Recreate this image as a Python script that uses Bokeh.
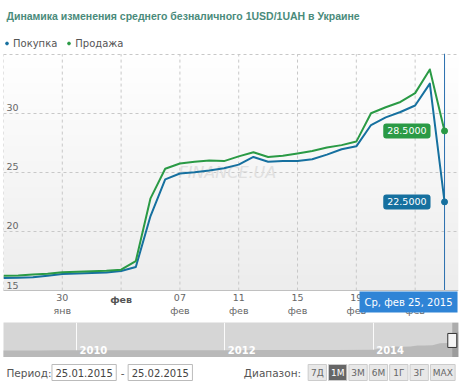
import numpy as np
from bokeh.plotting import figure
from bokeh.layouts import column
from bokeh.models import (Range1d, FixedTicker, Legend, LegendItem, Label)
from bokeh.core.properties import value
from bokeh.embed import file_html
from bokeh.resources import INLINE

# ---------------- data ----------------
# daily points 25.01.2015 ... 25.02.2015 on the ordinal (trading-day) axis
day_index = list(range(31))
buy = [16.07, 16.09, 16.12, 16.25, 16.40, 16.45, 16.48, 16.52, 16.65, 17.00,
       21.30, 24.40, 24.90, 25.00, 25.15, 25.35, 25.65, 26.30, 25.90, 25.95,
       25.95, 26.10, 26.50, 26.95, 27.20, 29.00, 29.65, 30.10, 30.65, 32.50, 22.50]
sell = [16.25, 16.28, 16.35, 16.42, 16.55, 16.60, 16.63, 16.67, 16.77, 17.50,
        22.80, 25.30, 25.75, 25.90, 26.00, 25.95, 26.35, 26.70, 26.30, 26.40,
        26.60, 26.80, 27.10, 27.30, 27.60, 30.00, 30.50, 30.95, 31.70, 33.70, 28.50]
x_grid_pos = [0, 4, 8, 12, 16, 20, 24, 28]
x_tick_pos = [4, 8, 12, 16, 20, 24, 28]
x_tick_labels = ["30\nянв", "фев", "07\nфев", "11\nфев", "15\nфев", "19\nфев", "23\nфев"]
bold_tick = 8
y_ticks = [15, 20, 25, 30, 35]
y_tick_labels = ["15", "20", "25", "30"]
series_names = ["Покупка", "Продажа"]
last_date_text = "Ср, фев 25, 2015"
title_text = "Динамика изменения среднего безналичного 1USD/1UAH в Украине"

# navigator (whole history, decimal years)
nav_x = [2009.0, 2009.25, 2009.5, 2009.75, 2010.0, 2010.5, 2011.0, 2011.5, 2012.0,
         2012.5, 2013.0, 2013.5, 2014.0, 2014.1, 2014.2, 2014.3, 2014.4, 2014.5,
         2014.6, 2014.7, 2014.8, 2014.9, 2015.0, 2015.07, 2015.1, 2015.15]
nav_y = [7.7, 7.7, 7.65, 8.0, 8.0, 7.9, 7.95, 7.97, 8.0, 8.05, 8.1, 8.15, 8.3, 9.5,
         11.0, 12.0, 11.7, 11.9, 13.0, 13.0, 13.4, 15.5, 15.8, 16.2, 25.0, 28.5]
nav_years = [2010, 2012, 2014]
selection = [2015.066, 2015.15]

period_values = ["25.01.2015", "25.02.2015"]
range_buttons = ["7Д", "1М", "3М", "6М", "1Г", "3Г", "MAX"]
active_button = "1М"

BLUE = "#16709f"
GREEN = "#2a9a45"
FONT = "DejaVu Sans"
W = 460
X_END = 30.95
Y_LOW, Y_HIGH = 12.3, 35.05


def bare(fig):
    fig.axis.visible = False
    fig.grid.visible = False


# ---------------- header: title + legend ----------------
hdr = figure(width=W, height=53, x_range=Range1d(0, W), y_range=Range1d(0, 53),
             output_backend="svg", toolbar_location=None, min_border=0,
             outline_line_color=None, background_fill_color="white", border_fill_color="white")
bare(hdr)
hdr.text(x=[3], y=[38], text=[title_text], text_baseline="middle",
         text_font=value("Liberation Sans"), text_font_size="10.5px",
         text_font_style="bold", text_color="#4a8b7b")
lg_buy = hdr.scatter(x=[-100], y=[-100], size=5.5, color=BLUE)
lg_sell = hdr.scatter(x=[-100], y=[-100], size=5.5, color=GREEN)
legend = Legend(items=[LegendItem(label=series_names[0], renderers=[lg_buy]),
                       LegendItem(label=series_names[1], renderers=[lg_sell])],
                orientation="horizontal", location=(0, 4),
                label_text_font=FONT, label_text_font_size="10px", label_text_color="#555555",
                glyph_width=7, glyph_height=12, label_height=12, label_standoff=3, spacing=8,
                padding=0, margin=0, border_line_color=None, background_fill_alpha=0)
hdr.add_layout(legend)

# ---------------- main chart ----------------
p = figure(width=W, height=269, x_range=Range1d(0, X_END), y_range=Range1d(Y_LOW, Y_HIGH),
           output_backend="svg", toolbar_location=None,
           min_border_left=3, min_border_right=2, min_border_top=0, min_border_bottom=0,
           outline_line_color=None, background_fill_color="white", border_fill_color="white")

# background gradient over the plotting band
N = 64
img = np.empty((N, 1), dtype=np.uint32)
v = img.view(dtype=np.uint8).reshape((N, 1, 4))
shade = np.linspace(237, 255, N).astype(np.uint8)
v[:, 0, 0] = shade
v[:, 0, 1] = shade
v[:, 0, 2] = shade
v[:, 0, 3] = 255
p.image_rgba(image=[img], x=0, y=y_ticks[0], dw=X_END, dh=y_ticks[-1] - y_ticks[0], level="image")

p.yaxis.visible = False
p.xgrid.visible = False
p.ygrid.ticker = FixedTicker(ticks=y_ticks)
p.ygrid.grid_line_color = "#c8c8c8"
p.ygrid.grid_line_dash = "3 3"
p.segment(x0=x_grid_pos, y0=[y_ticks[0]] * len(x_grid_pos), x1=x_grid_pos,
          y1=[y_ticks[-1]] * len(x_grid_pos), line_color="#c8c8c8", line_dash="3 3",
          line_width=1, level="underlay")

xa = p.xaxis[0]
xa.fixed_location = y_ticks[0]
xa.ticker = FixedTicker(ticks=x_tick_pos)
xa.major_label_overrides = {t: (l if t != bold_tick else "") for t, l in zip(x_tick_pos, x_tick_labels)}
xa.major_label_text_font = FONT
xa.major_label_text_font_size = "9.5px"
xa.major_label_text_color = "#666666"
xa.major_label_standoff = -5
xa.major_tick_line_color = None
xa.minor_tick_line_color = None
xa.axis_line_color = "#c0c0c0"

bold_lbl = dict(zip(x_tick_pos, x_tick_labels))[bold_tick]
p.add_layout(Label(x=bold_tick, y=y_ticks[0], text=bold_lbl, text_align="center",
                   text_baseline="top", y_offset=-3, text_font=FONT, text_font_size="9.5px",
                   text_font_style="bold", text_color="#555555"))

# y labels inside the frame
p.text(x=[0] * len(y_tick_labels), y=[float(t) for t in y_tick_labels], text=y_tick_labels,
       x_offset=3, y_offset=-2, text_baseline="bottom", text_align="left",
       text_font=value(FONT), text_font_size="9.5px", text_color="#666666")

# watermark
p.text(x=[11.9], y=[25.0], text=["FINANCE.UA"], text_font=value(FONT), text_font_size="16px",
       text_font_style="italic", text_color="#e0e0e0", text_baseline="middle")

# crosshair
p.segment(x0=[day_index[-1]], y0=[y_ticks[0]], x1=[day_index[-1]], y1=[Y_HIGH],
          line_color="#2a6fae", line_width=1)

p.line(day_index, buy, line_color=BLUE, line_width=2, line_join="round")
p.line(day_index, sell, line_color=GREEN, line_width=2, line_join="round")
p.scatter([day_index[-1]], [buy[-1]], size=6, color=BLUE)
p.scatter([day_index[-1]], [sell[-1]], size=6, color=GREEN)

for val, col in ((sell[-1], GREEN), (buy[-1], BLUE)):
    p.add_layout(Label(x=day_index[-1], y=val, text=f"{val:.4f}", x_offset=-14,
                       text_align="right", text_baseline="middle", text_font=FONT,
                       text_font_size="9.5px", text_color="white",
                       background_fill_color=col, padding=4, border_radius=3))

p.add_layout(Label(x=day_index[-1], y=y_ticks[0], text=last_date_text, x_offset=13, y_offset=-1,
                   text_align="right", text_baseline="top", text_font=FONT,
                   text_font_size="10px", text_color="white",
                   background_fill_color="#2f84d6", padding=5))

# ---------------- navigator ----------------
nav = figure(width=W, height=35, x_range=Range1d(2009.016, 2015.15), y_range=Range1d(0, 38),
             output_backend="svg", toolbar_location=None, min_border=0,
             min_border_left=3, min_border_right=2,
             outline_line_color=None, background_fill_color="#d6d6d6", border_fill_color="white")
nav.axis.visible = False
nav.ygrid.visible = False
nav.xgrid.ticker = FixedTicker(ticks=nav_years)
nav.xgrid.grid_line_color = "white"
nav.xgrid.grid_line_alpha = 0.9
nav.varea(x=nav_x, y1=0, y2=nav_y, fill_color="#b9b9b9")
nav.quad(left=[selection[0]], right=[selection[1]], bottom=0, top=38,
         fill_color="#7a7a7a", fill_alpha=0.45, line_color=None)
nav.text(x=nav_years, y=[0] * 3, text=[str(y) for y in nav_years], x_offset=3, y_offset=-4,
         text_baseline="bottom", text_font=value(FONT), text_font_size="10px",
         text_color="white", text_font_style="bold")
nav.rect(x=[selection[0]], y=[18.5], width=9, height=14, width_units="screen",
         height_units="screen", fill_color="#f4f4f4", line_color="#333333")

# ---------------- controls ----------------
ctl = figure(width=W, height=31, x_range=Range1d(0, W), y_range=Range1d(0, 31),
             output_backend="svg", toolbar_location=None, min_border=0,
             outline_line_color=None, background_fill_color="white", border_fill_color="white")
bare(ctl)
TY = 15.5
ctl.text(x=[3], y=[TY], text=["Период:"], text_baseline="middle", text_font=value(FONT),
         text_font_size="10.5px", text_color="#555555")
box_l = [49, 126]
box_w = 65
ctl.quad(left=box_l, right=[b + box_w for b in box_l], bottom=8, top=24,
         fill_color="white", line_color="#bbbbbb")
ctl.text(x=[b + box_w / 2 for b in box_l], y=[TY, TY], text=period_values, text_align="center",
         text_baseline="middle", text_font=value(FONT), text_font_size="10px", text_color="#444444")
ctl.text(x=[120.5], y=[TY], text=["-"], text_align="center", text_baseline="middle",
         text_font=value(FONT), text_font_size="10.5px", text_color="#555555")
ctl.text(x=[243], y=[TY], text=["Диапазон:"], text_baseline="middle", text_font=value(FONT),
         text_font_size="10.5px", text_color="#555555")
lefts, rights = [], []
xpos = 308.0
for b in range_buttons:
    w = 25.0 if len(b) > 2 else 18.5
    lefts.append(xpos)
    rights.append(xpos + w)
    xpos += w + 2.1
fills = ["#666666" if b == active_button else "#e8e8e8" for b in range_buttons]
tcols = ["white" if b == active_button else "#666666" for b in range_buttons]
ctl.quad(left=lefts, right=rights, bottom=8, top=24, fill_color=fills, line_color="#cccccc")
ctl.text(x=[(a + b) / 2 for a, b in zip(lefts, rights)], y=[TY] * len(range_buttons),
         text=range_buttons, text_align="center", text_baseline="middle",
         text_font=value(FONT), text_font_size="9px", text_color=tcols)

layout = column(hdr, p, nav, ctl, spacing=0)
open("out.html", "w").write(file_html(layout, INLINE))
